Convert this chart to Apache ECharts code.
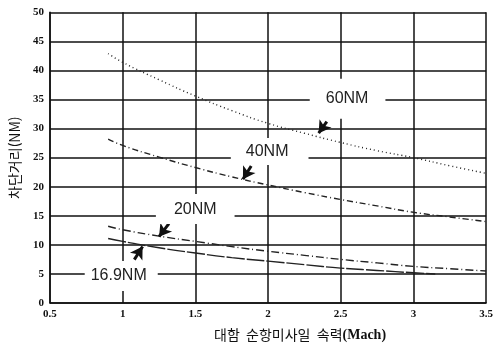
<!DOCTYPE html>
<html lang="ko">
<head>
<meta charset="UTF-8">
<title>차단거리</title>
<script src="https://cdn.jsdelivr.net/npm/echarts@6/dist/echarts.min.js"></script>
<style>
  html, body { margin: 0; padding: 0; background: #fff; }
  #chart { width: 496px; height: 347px; }
</style>
</head>
<body>
<div id="chart"></div>
<script>
// 데이터
var machLong = [0.9, 1.0, 1.25, 1.5, 1.75, 2.0, 2.25, 2.5, 2.75, 3.0, 3.25, 3.5];
var range60 = [42.9, 41.4, 38.4, 35.6, 33.1, 30.9, 29.2, 27.6, 26.2, 25.0, 23.6, 22.3];
var range40 = [28.2, 27.1, 25.1, 23.3, 21.7, 20.3, 19.0, 17.8, 16.7, 15.6, 14.8, 14.0];
var range20 = [13.2, 12.6, 11.5, 10.6, 9.7, 8.9, 8.2, 7.5, 6.9, 6.3, 5.9, 5.5];
var machShort = [0.9, 1.0, 1.25, 1.5, 1.75, 2.0, 2.25, 2.5, 2.75, 3.0, 3.15];
var range169 = [11.1, 10.6, 9.5, 8.6, 7.8, 7.2, 6.6, 6.0, 5.6, 5.2, 5.0];
var seriesNames = ['60NM', '40NM', '20NM', '16.9NM'];

// 라벨 박스, 화살표 위치 (주석)
var notes = [
  { at: [2.547, 35.14], pad: [19, 17, 5, 16], from: [2.404, 31.2], to: [2.348, 29.2] },
  { at: [2.011, 26.07], pad: [7, 20, 4, 15], from: [1.884, 23.56], to: [1.827, 21.29] },
  { at: [1.499, 16.15], pad: [8, 18, 6, 18], from: [1.318, 13.66], to: [1.250, 11.41] },
  { at: [0.990, 4.63], pad: [8, 11, 6, 6], from: [1.080, 7.46], to: [1.137, 9.71] }
];
var dashes = [[1, 3], [6, 3, 1, 3], [8, 3, 1, 3], [18, 2]];

function pairs(xs, ys) {
  return xs.map(function (x, i) { return [x, ys[i]]; });
}

var curves = [pairs(machLong, range60), pairs(machLong, range40),
              pairs(machLong, range20), pairs(machShort, range169)];

var serifBold = { fontFamily: 'Liberation Serif', fontWeight: 'bold', fontSize: 11, color: '#111' };
var gridLine = { show: true, lineStyle: { color: '#111', width: 1.5 } };

var chart = echarts.init(document.getElementById('chart'));
chart.setOption({
  animation: false,
  backgroundColor: '#fff',
  grid: { left: 49.5, right: 5, top: 12.3, bottom: 39.3 },
  xAxis: {
    type: 'value', min: 0.5, max: 3.5, interval: 0.5,
    axisLine: { lineStyle: { color: '#111', width: 1.5 } },
    axisTick: { show: false },
    axisLabel: Object.assign({ margin: 6 }, serifBold),
    splitLine: gridLine,
    name: '{k|대함  순항미사일  속력}{m|(Mach)}',
    nameLocation: 'middle', nameGap: 25,
    nameTextStyle: {
      padding: [0, 0, 0, 64],
      rich: {
        k: { fontFamily: 'Noto Sans CJK KR', fontSize: 14, color: '#111' },
        m: { fontFamily: 'Liberation Serif', fontWeight: 'bold', fontSize: 14, color: '#111' }
      }
    }
  },
  yAxis: {
    type: 'value', min: 0, max: 50, interval: 5,
    axisLine: { show: true, lineStyle: { color: '#111', width: 1.5 } },
    axisTick: { show: false },
    axisLabel: Object.assign({ margin: 6 }, serifBold),
    splitLine: gridLine,
    name: '차단거리(NM)',
    nameLocation: 'middle', nameGap: 28,
    nameTextStyle: { fontFamily: 'Noto Sans CJK KR', fontSize: 14, color: '#111' }
  },
  series: curves.map(function (pts, i) {
    var n = notes[i];
    return {
      name: seriesNames[i],
      type: 'line',
      data: pts,
      smooth: true,
      symbol: 'none',
      lineStyle: { color: '#222', width: 1.4, type: dashes[i] },
      emphasis: { disabled: true },
      markPoint: {
        silent: true,
        symbol: 'rect', symbolSize: 0,
        data: [{ coord: n.at }],
        label: {
          show: true, position: 'inside',
          formatter: seriesNames[i],
          fontFamily: 'Liberation Sans', fontSize: 16, lineHeight: 16,
          color: '#222', backgroundColor: '#fff', padding: n.pad
        }
      },
      markLine: {
        silent: true,
        symbol: ['none', 'arrow'], symbolSize: [11, 12],
        label: { show: false },
        lineStyle: { color: '#111', width: 3, type: 'solid' },
        data: [[{ coord: n.from }, { coord: n.to }]]
      }
    };
  })
});
</script>
</body>
</html>
